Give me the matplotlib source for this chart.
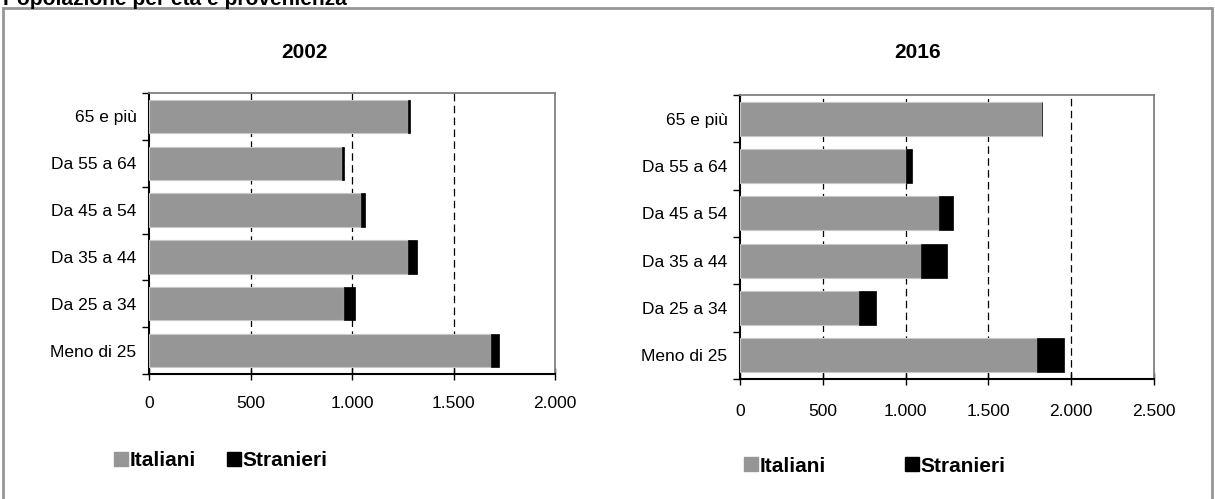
import matplotlib
matplotlib.use("Agg")
import matplotlib.pyplot as plt
from matplotlib.patches import Rectangle, Patch
from matplotlib.ticker import FuncFormatter, FixedLocator

plt.rcParams['font.family'] = ['Liberation Sans', 'DejaVu Sans']

# Dati
categorie = ["Meno di 25", "Da 25 a 34", "Da 35 a 44", "Da 45 a 54", "Da 55 a 64", "65 e più"]

italiani_2002 = [1685, 962, 1277, 1045, 950, 1275]
stranieri_2002 = [40, 54, 42, 18, 10, 10]

italiani_2016 = [1791, 721, 1093, 1204, 1002, 1825]
stranieri_2016 = [163, 102, 155, 84, 35, 0]

tick_2002 = [0, 500, 1000, 1500, 2000]
tick_2016 = [0, 500, 1000, 1500, 2000, 2500]

GRIGIO = '#969696'
W, H = 1215, 499

fig = plt.figure(figsize=(W / 100, H / 100), dpi=100)


def fmt_it(v, pos):
    return f"{int(v):,}".replace(",", ".")


def pannello(rect, italiani, stranieri, ticks, pad_x):
    x0, y0, x1, y1 = rect
    ax = fig.add_axes([x0 / W, 1 - y1 / H, (x1 - x0) / W, (y1 - y0) / H])
    pos = range(len(categorie))
    ax.barh(pos, italiani, height=0.714, color=GRIGIO, edgecolor='#c8c8c8',
            linewidth=0.8, zorder=3)
    ax.barh(pos, stranieri, left=italiani, height=0.714, color='black',
            edgecolor='black', linewidth=0.5, zorder=3)
    ax.set_xlim(ticks[0], ticks[-1])
    ax.set_ylim(-0.5, len(categorie) - 0.5)
    ax.set_xticks(ticks)
    ax.xaxis.set_major_formatter(FuncFormatter(fmt_it))
    ax.set_yticks(list(pos))
    ax.set_yticklabels(categorie)
    ax.yaxis.set_minor_locator(FixedLocator([i - 0.5 for i in range(len(categorie) + 1)]))
    ax.tick_params(axis='y', which='major', length=0, pad=9, labelsize=12.5)
    ax.tick_params(axis='y', which='minor', length=5, width=1, direction='out')
    ax.tick_params(axis='x', which='major', length=8, width=1, direction='inout',
                   pad=pad_x, labelsize=12.5)
    for v in ticks[1:-1]:
        ax.axvline(v, color='black', linestyle=(0, (6, 3.5)), linewidth=0.9, zorder=1)
    for s in ['top', 'right']:
        ax.spines[s].set_color('#808080')
        ax.spines[s].set_linewidth(1.3)
    for s in ['left', 'bottom']:
        ax.spines[s].set_color('black')
        ax.spines[s].set_linewidth(1.5)
    return ax


ax1 = pannello((149, 93, 555, 374), italiani_2002, stranieri_2002, tick_2002, 12)
ax2 = pannello((740, 95, 1154, 379), italiani_2016, stranieri_2016, tick_2016, 14)

fig.text(305 / W, 1 - 52 / H, "2002", ha='center', va='center', fontsize=15, fontweight='bold')
fig.text(918 / W, 1 - 52 / H, "2016", ha='center', va='center', fontsize=15, fontweight='bold')

fig.text(3 / W, 1 - 5 / H, "Popolazione per età e provenienza", ha='left', va='baseline',
         fontsize=15, fontweight='bold')

# Legende
maniglie = [Patch(facecolor=GRIGIO, edgecolor=GRIGIO, label='Italiani'),
            Patch(facecolor='black', edgecolor='black', label='Stranieri')]
fig.legend(handles=maniglie, loc='center left', bbox_to_anchor=(114 / W, 1 - 461 / H),
           ncol=2, frameon=False, prop={'size': 15, 'weight': 'bold'},
           handlelength=0.65, handleheight=0.65, handletextpad=0.1,
           columnspacing=1.5, borderaxespad=0, borderpad=0)
fig.legend(handles=maniglie, loc='center left', bbox_to_anchor=(744 / W, 1 - 466 / H),
           ncol=2, frameon=False, prop={'size': 15, 'weight': 'bold'},
           handlelength=0.65, handleheight=0.65, handletextpad=0.1,
           columnspacing=3.8, borderaxespad=0, borderpad=0)

# Cornice esterna
fig.patches.append(Rectangle((3 / W, -0.05), (1212 - 3) / W, 1.05 - 7.5 / H,
                             transform=fig.transFigure, fill=False,
                             edgecolor=GRIGIO, linewidth=2))

fig.savefig("out.png", dpi=100)
